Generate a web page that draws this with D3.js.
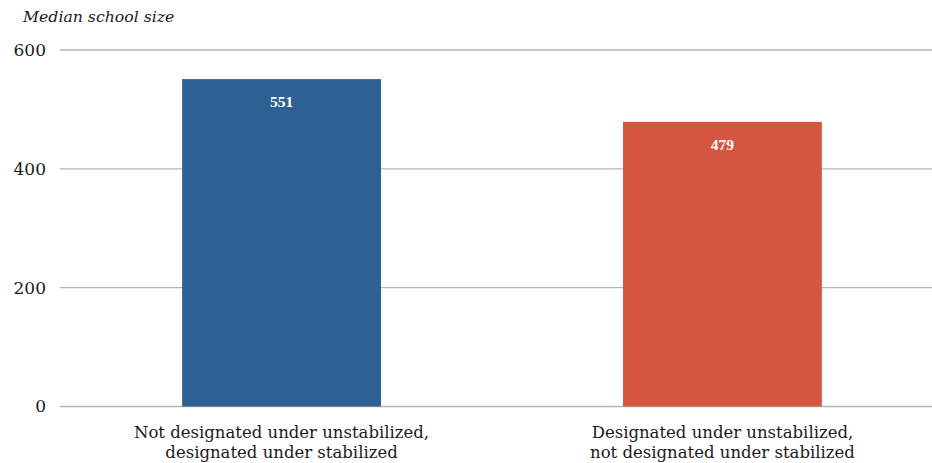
<!DOCTYPE html>
<html>
<head>
<meta charset="utf-8">
<script src="https://cdn.jsdelivr.net/npm/d3@7"></script>
<style>
  html, body { margin: 0; padding: 0; background: #ffffff; }
  svg { display: block; }
  text { font-family: "DejaVu Serif", "Liberation Serif", serif; fill: #1a1a1a; }
</style>
</head>
<body>
<svg id="chart" width="932" height="463"></svg>
<script>
// Median school size by designation group
const categories = [
  ["Not designated under unstabilized,", "designated under stabilized"],
  ["Designated under unstabilized,", "not designated under stabilized"]
];
const values = [551, 479];
const colors = ["#2e6094", "#d45641"];
const yTicks = [0, 200, 400, 600];
const yTitle = "Median school size";

const svg = d3.select("#chart");
const gridLeft = 60;
const gridRight = 932;

const y = d3.scaleLinear().domain([0, 600]).range([406.5, 50]);
const x = d3.scaleBand()
  .domain(d3.range(categories.length))
  .range([60, 944])
  .paddingInner(0.549)
  .paddingOuter(0.277);

// Horizontal gridlines
svg.append("g")
  .selectAll("line")
  .data(yTicks)
  .join("line")
  .attr("x1", gridLeft)
  .attr("x2", gridRight)
  .attr("y1", d => y(d))
  .attr("y2", d => y(d))
  .attr("stroke", "#b4b4b4")
  .attr("stroke-width", 1.3);

// Y tick labels
svg.append("g")
  .selectAll("text")
  .data(yTicks)
  .join("text")
  .attr("x", 46)
  .attr("y", d => y(d))
  .attr("dy", "0.35em")
  .attr("text-anchor", "end")
  .style("font-size", "17px")
  .text(d => d);

// Axis title
svg.append("text")
  .attr("x", 23)
  .attr("y", 22)
  .style("font-size", "15.7px")
  .style("font-style", "italic")
  .text(yTitle);

// Bars
svg.append("g")
  .selectAll("rect")
  .data(values)
  .join("rect")
  .attr("x", (d, i) => x(i))
  .attr("width", x.bandwidth())
  .attr("y", d => y(d))
  .attr("height", d => y(0) - y(d))
  .attr("fill", (d, i) => colors[i]);

// Value labels inside the bars
svg.append("g")
  .selectAll("text")
  .data(values)
  .join("text")
  .attr("x", (d, i) => x(i) + x.bandwidth() / 2)
  .attr("y", d => y(d) + 22.5)
  .attr("dy", "0.35em")
  .attr("text-anchor", "middle")
  .style("font-family", "'Liberation Serif', serif")
  .style("font-size", "15.5px")
  .style("font-weight", "bold")
  .style("fill", "#ffffff")
  .text(d => d);

// Category labels
const catG = svg.append("g")
  .selectAll("text")
  .data(categories)
  .join("text")
  .attr("text-anchor", "middle")
  .style("font-size", "16.5px");
catG.selectAll("tspan")
  .data((d, i) => d.map(line => ({ line, i })))
  .join("tspan")
  .attr("x", d => x(d.i) + x.bandwidth() / 2)
  .attr("y", (d, j) => 438 + j * 19.5)
  .text(d => d.line);
</script>
</body>
</html>
